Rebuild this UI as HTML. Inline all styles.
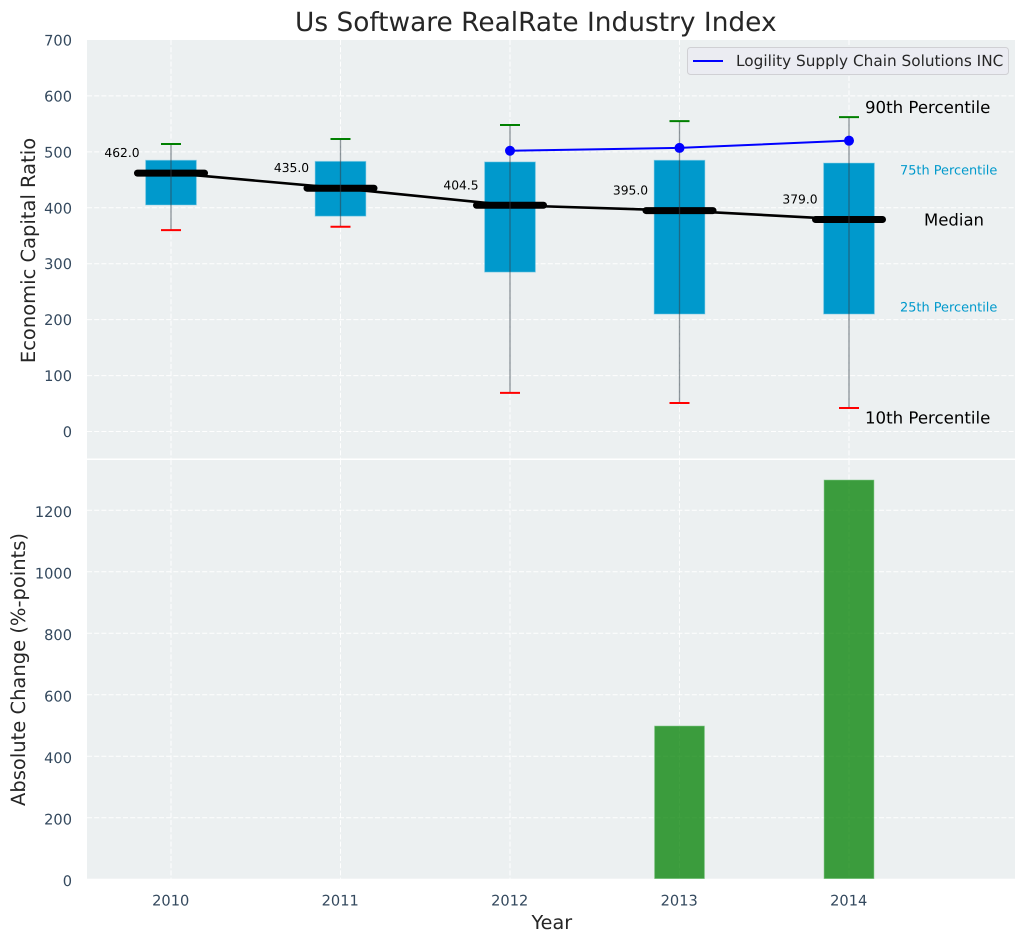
<!DOCTYPE html>
<html>
<head>
<meta charset="utf-8">
<title>Us Software RealRate Industry Index</title>
<style>
html,body{margin:0;padding:0;background:#fff;width:1026px;height:942px;overflow:hidden}
svg{display:block;font-family:"DejaVu Sans","Liberation Sans",sans-serif;text-rendering:geometricPrecision}
</style>
</head>
<body>
<svg id="chart" xmlns="http://www.w3.org/2000/svg" width="1026" height="942" viewBox="0 0 1026 942">
<text x="535.8" y="31" text-anchor="middle" font-size="26.4" fill="#262626">Us Software RealRate Industry Index</text>
<text transform="translate(35,250.5) rotate(-90)" text-anchor="middle" font-size="19.5" fill="#262626">Economic Capital Ratio</text>
<text transform="translate(25,669.5) rotate(-90)" text-anchor="middle" font-size="19.5" fill="#262626">Absolute Change (%-points)</text>
<text x="551.8" y="929" text-anchor="middle" font-size="19.2" fill="#262626">Year</text>
<rect x="87" y="40" width="928" height="418.5" fill="#ecf0f1"/>
<rect x="87" y="460" width="928" height="418.7" fill="#ecf0f1"/>
<g id="marks"></g>
<g>
<rect x="687.5" y="47.5" width="321" height="27" rx="3" fill="#ebecf2" stroke="#d0d0d4" stroke-width="1"/>
<line x1="693" y1="61" x2="723" y2="61" stroke="#0000ff" stroke-width="2"/>
<text x="736" y="66" font-size="15.3" fill="#262626">Logility Supply Chain Solutions INC</text>
</g>
</svg>
<script>
const years = [2010, 2011, 2012, 2013, 2014];
const p10 = [360, 366, 69, 51, 42];
const p25 = [405, 385, 285, 210, 210];
const medians = [462, 435, 404.5, 395, 379];
const p75 = [485, 483, 482, 485, 480];
const p90 = [514, 523, 548, 555, 562];
const companyYears = [2012, 2013, 2014];
const companyValues = [502, 507, 520];
const changeYears = [2013, 2014];
const changeValues = [498, 1298];
const topTicks = [0, 100, 200, 300, 400, 500, 600, 700];
const bottomTicks = [0, 200, 400, 600, 800, 1000, 1200];

const svgNS = 'http://www.w3.org/2000/svg';
const marks = document.getElementById('marks');
const xOf = function (v) { return 171 + (v - 2010) * 169.5; };
const yTop = function (v) { return 431.5 - v * 0.5593; };
const yBottom = function (v) { return 879.3 - v * 0.3075; };
const make = function (tag, attrs, text) {
  const el = document.createElementNS(svgNS, tag);
  Object.keys(attrs).forEach(function (k) { el.setAttribute(k, attrs[k]); });
  if (text !== undefined) { el.textContent = text; }
  marks.appendChild(el);
  return el;
};
const GRID = { stroke: '#ffffff', 'stroke-width': 1, 'stroke-dasharray': '5 2.2', opacity: 0.95 };
const TICK = { 'font-size': 14.6, fill: '#34495e' };

topTicks.forEach(function (t) {
  if (t < 700) {
    const g = make('line', Object.assign({ x1: 87, x2: 1015, y1: yTop(t), y2: yTop(t) }, GRID));
    
    
  }
  const l = make('text', Object.assign({ x: 72, y: yTop(t) + 5.5, 'text-anchor': 'end' }, TICK), String(t));
  
  
});
bottomTicks.forEach(function (t) {
  if (t > 0) {
    const g = make('line', Object.assign({ x1: 87, x2: 1015, y1: yBottom(t), y2: yBottom(t) }, GRID));
    
    
  }
  const l = make('text', Object.assign({ x: 72, y: yBottom(t) + 6.5, 'text-anchor': 'end' }, TICK), String(t));
  
  
});
years.forEach(function (yr) {
  const a = make('line', Object.assign({ x1: xOf(yr), x2: xOf(yr), y1: 40, y2: 458.5 }, GRID));
  
  
  const b = make('line', Object.assign({ x1: xOf(yr), x2: xOf(yr), y1: 460, y2: 878.7 }, GRID));
  
  
  const l = make('text', Object.assign({ x: xOf(yr) - 0.3, y: 905.5, 'text-anchor': 'middle' }, TICK), String(yr));
  
  
});

changeYears.forEach(function (yr, i) {
  const h = 878.5 - yBottom(changeValues[i]);
  const bar = make('rect', { x: xOf(yr) - 24.8, y: yBottom(changeValues[i]), width: 49.6, height: h, fill: '#008000', 'fill-opacity': 0.75, stroke: '#4caf50', 'stroke-opacity': 0.5, 'stroke-width': 1 });
  
  
});

years.forEach(function (yr, i) {
  const x = xOf(yr);
  const box = make('rect', { x: x - 25.4, y: yTop(p75[i]), width: 50.8, height: yTop(p25[i]) - yTop(p75[i]), fill: '#0099cc', stroke: '#7fcce5', 'stroke-opacity': 0.5, 'stroke-width': 1 });
  
  
});

const medianPoints = years.map(function (yr, i) { return xOf(yr) + ',' + yTop(medians[i]); }).join(' ');
const medianLine = make('polyline', { points: medianPoints, fill: 'none', stroke: '#000000', 'stroke-width': 2.6 });



years.forEach(function (yr, i) {
  const x = xOf(yr);
  const m = make('line', { x1: x - 33.5, x2: x + 33.5, y1: yTop(medians[i]), y2: yTop(medians[i]), stroke: '#000000', 'stroke-width': 7, 'stroke-linecap': 'round' });
  
  
  const w = make('line', { x1: x, x2: x, y1: yTop(p90[i]), y2: yTop(p10[i]), stroke: '#33424a', 'stroke-opacity': 0.55, 'stroke-width': 1.3 });
  
  
  const hi = make('line', { x1: x - 10, x2: x + 10, y1: yTop(p90[i]), y2: yTop(p90[i]), stroke: '#008000', 'stroke-width': 2 });
  
  
  const lo = make('line', { x1: x - 10, x2: x + 10, y1: yTop(p10[i]), y2: yTop(p10[i]), stroke: '#ff0000', 'stroke-width': 2 });
  
  
  const t = make('text', { x: x - 49, y: yTop(medians[i]) - 16, 'text-anchor': 'middle', 'font-size': 12.3, fill: '#000000' }, medians[i].toFixed(1));
  
  
});

const companyPoints = companyYears.map(function (yr, i) { return xOf(yr) + ',' + yTop(companyValues[i]); }).join(' ');
const companyLine = make('polyline', { points: companyPoints, fill: 'none', stroke: '#0000ff', 'stroke-width': 2 });


companyYears.forEach(function (yr, i) {
  const c = make('circle', { cx: xOf(yr), cy: yTop(companyValues[i]), r: 5, fill: '#0000ff' });
  
  
});

const last = years.length - 1;
const lastX = xOf(years[last]);
const t90 = make('text', { x: lastX + 16, y: yTop(p90[last]) - 4, 'font-size': 16.6, fill: '#000000' }, '90th Percentile');


const t75 = make('text', { x: lastX + 51, y: yTop(p75[last]) + 11.5, 'font-size': 12.9, fill: '#0099cc' }, '75th Percentile');


const tMed = make('text', { x: lastX + 75, y: yTop(medians[last]) + 6, 'font-size': 16.5, fill: '#000000' }, 'Median');


const t25 = make('text', { x: lastX + 51, y: yTop(p25[last]) - 2.5, 'font-size': 12.9, fill: '#0099cc' }, '25th Percentile');


const t10 = make('text', { x: lastX + 16, y: yTop(p10[last]) + 15.5, 'font-size': 16.6, fill: '#000000' }, '10th Percentile');


</script>
</body>
</html>
